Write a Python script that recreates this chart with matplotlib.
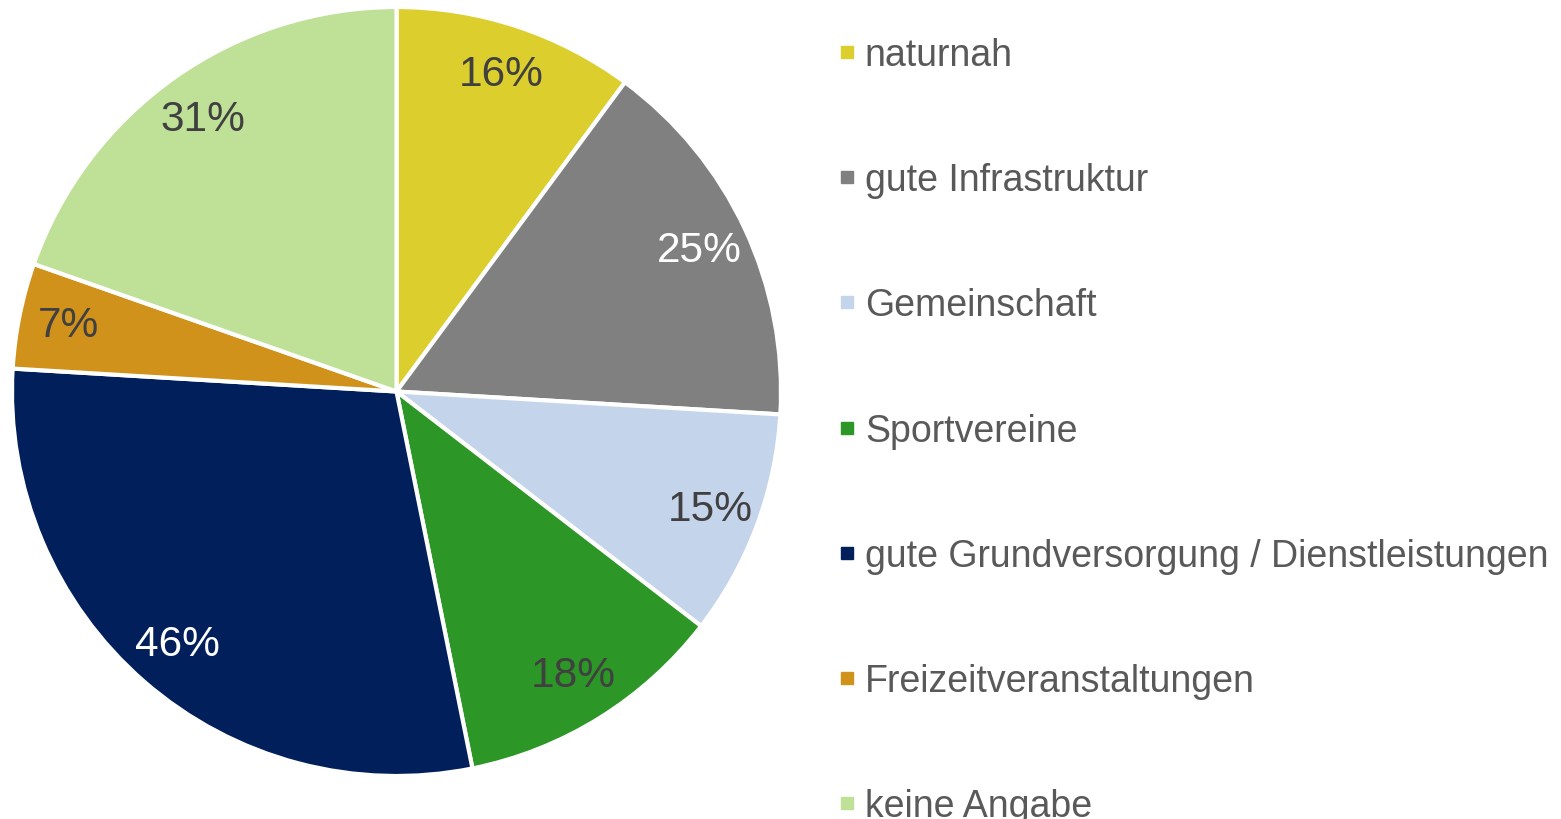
import matplotlib
matplotlib.use("Agg")
import matplotlib.pyplot as plt
from matplotlib.lines import Line2D

categories = ["naturnah", "gute Infrastruktur", "Gemeinschaft", "Sportvereine",
              "gute Grundversorgung / Dienstleistungen", "Freizeitveranstaltungen", "keine Angabe"]
values = [16, 25, 15, 18, 46, 7, 31]
colors = ["#DBCE2D", "#808080", "#C4D4EB", "#2C9627", "#001F5B", "#D0921B", "#BFE097"]
label_colors = ["#404040", "#FFFFFF", "#404040", "#404040", "#FFFFFF", "#404040", "#404040"]

plt.rcParams['font.family'] = ['Liberation Sans', 'DejaVu Sans']

W, H = 1561, 820
fig = plt.figure(figsize=(W / 100, H / 100), dpi=100)
cx, cy, r = 396.5, 392.5, 384.5
ax = fig.add_axes([(cx - r) / W, (H - cy - r) / H, 2 * r / W, 2 * r / H])

total = sum(values)
wedges, texts, autotexts = ax.pie(
    values, colors=colors, startangle=90, counterclock=False,
    autopct=lambda p: f"{round(p * total / 100)}%", pctdistance=0.87,
    wedgeprops=dict(edgecolor="white", linewidth=3), radius=1.0)
for t, c in zip(autotexts, label_colors):
    t.set_color(c)
    t.set_fontsize(30.5)
ax.set_xlim(-1, 1)
ax.set_ylim(-1, 1)
ax.set_aspect("equal")
ax.axis("off")

handles = [Line2D([0], [0], marker='s', linestyle='none', markersize=8.5,
                  markerfacecolor=c, markeredgecolor=c) for c in colors]
leg = fig.legend(handles, categories, loc="upper left",
                 bbox_to_anchor=(836 / W, 1 - 38 / H), frameon=False,
                 fontsize=27, labelcolor="#595959", handlelength=0.6,
                 handletextpad=0.17, labelspacing=2.38, borderaxespad=0, borderpad=0)

fig.savefig("out.png", dpi=100)
